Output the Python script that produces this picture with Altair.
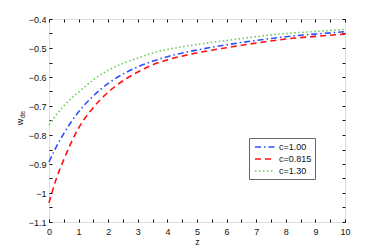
import altair as alt
import pandas as pd

z = [0, 0.25, 0.5, 0.75, 1, 1.5, 2, 2.5, 3, 3.5, 4, 5, 6, 7, 8, 9, 10]
w_c100 = [-0.893, -0.84, -0.795, -0.755, -0.72, -0.665, -0.622, -0.59, -0.565, -0.546, -0.53, -0.507, -0.489, -0.474, -0.461, -0.452, -0.444]
w_c0815 = [-1.034, -0.95, -0.885, -0.826, -0.776, -0.705, -0.652, -0.613, -0.583, -0.558, -0.541, -0.517, -0.499, -0.483, -0.469, -0.46, -0.452]
w_c130 = [-0.765, -0.73, -0.70, -0.674, -0.652, -0.61, -0.577, -0.553, -0.535, -0.517, -0.505, -0.488, -0.474, -0.461, -0.45, -0.443, -0.436]

series_names = ["c=1.00", "c=0.815", "c=1.30"]
series_colors = ["#2f4fff", "#ff1010", "#66cc55"]
series_dash = [[6, 3, 1.5, 3], [6, 4], [1.5, 2.5]]

x_ticks = [i * 0.5 for i in range(21)]
y_ticks = [round(-1.1 + i * 0.05, 2) for i in range(15)]

rows = []
for name, vals in zip(series_names, [w_c100, w_c0815, w_c130]):
    for zz, ww in zip(z, vals):
        rows.append({"z": zz, "w": ww, "series": name})
df = pd.DataFrame(rows)

xscale = alt.Scale(domain=[0, 10], nice=False, zero=False)
yscale = alt.Scale(domain=[-1.1, -0.4], nice=False, zero=False)

major_x = "abs(datum.value - round(datum.value)) < 0.001 ? datum.label : ''"
major_y = "abs(datum.value*10 - round(datum.value*10)) < 0.001 ? datum.label : ''"

FS = 9
common_axis = dict(grid=False, domain=False, tickSize=3, offset=-3, tickColor="#111",
                   labelFont="Liberation Sans", labelFontSize=FS, labelColor="#111")

lines = alt.Chart(df).mark_line(strokeWidth=1.6, interpolate="monotone").encode(
    x=alt.X("z:Q", scale=xscale,
            axis=alt.Axis(orient="bottom", values=x_ticks, labelExpr=major_x, format="~g",
                          labelPadding=5, title="z", titleFont="Liberation Sans",
                          titleFontSize=FS, titleFontWeight="normal", titlePadding=1,
                          titleColor="#111", labelFlush=False, **common_axis)),
    y=alt.Y("w:Q", scale=yscale,
            axis=alt.Axis(orient="left", values=y_ticks, labelExpr=major_y, format="~g",
                          labelPadding=3, title=None, labelFlush=False, **common_axis)),
    color=alt.Color("series:N", scale=alt.Scale(domain=series_names, range=series_colors),
                    sort=series_names,
                    legend=alt.Legend(title=None, orient="none", legendX=200, legendY=119,
                                      strokeColor="#666", padding=3, labelFontSize=FS,
                                      labelFont="Liberation Sans", symbolType="M-0.6,0L3.4,0",
                                      symbolSize=100, symbolStrokeWidth=1.6, rowPadding=1,
                                      labelOffset=15, fillColor="white", labelColor="#111")),
    strokeDash=alt.StrokeDash("series:N", scale=alt.Scale(domain=series_names, range=series_dash),
                              sort=series_names, legend=None),
)

mirror = alt.Chart(df).mark_line(opacity=0).encode(
    x=alt.X("z:Q", scale=xscale,
            axis=alt.Axis(orient="top", values=x_ticks, labels=False, title=None, **common_axis)),
    y=alt.Y("w:Q", scale=yscale,
            axis=alt.Axis(orient="right", values=y_ticks, labels=False, title=None, **common_axis)),
    detail="series:N",
)

lab_df = pd.DataFrame({"t": ["w"]})
ylab_w = alt.Chart(lab_df).mark_text(text="w", angle=270, fontSize=FS, font="Liberation Sans",
                                     color="#111", align="center", baseline="middle").encode(
    x=alt.value(-29), y=alt.value(103))
ylab_de = alt.Chart(lab_df).mark_text(text="de", angle=270, fontSize=6.5, font="Liberation Sans",
                                      color="#111", align="center", baseline="middle").encode(
    x=alt.value(-26.5), y=alt.value(95.5))

chart = alt.layer(lines, mirror, ylab_w, ylab_de).resolve_axis(
    x="independent", y="independent"
).properties(
    width=296, height=203,
    autosize=alt.AutoSizeParams(type="none"),
    padding={"left": 41, "top": 11, "right": 20, "bottom": 28},
).configure_view(stroke="#111", strokeWidth=1).configure(background="white")

chart.save("out.html", embed_options={"renderer": "svg", "actions": False})
